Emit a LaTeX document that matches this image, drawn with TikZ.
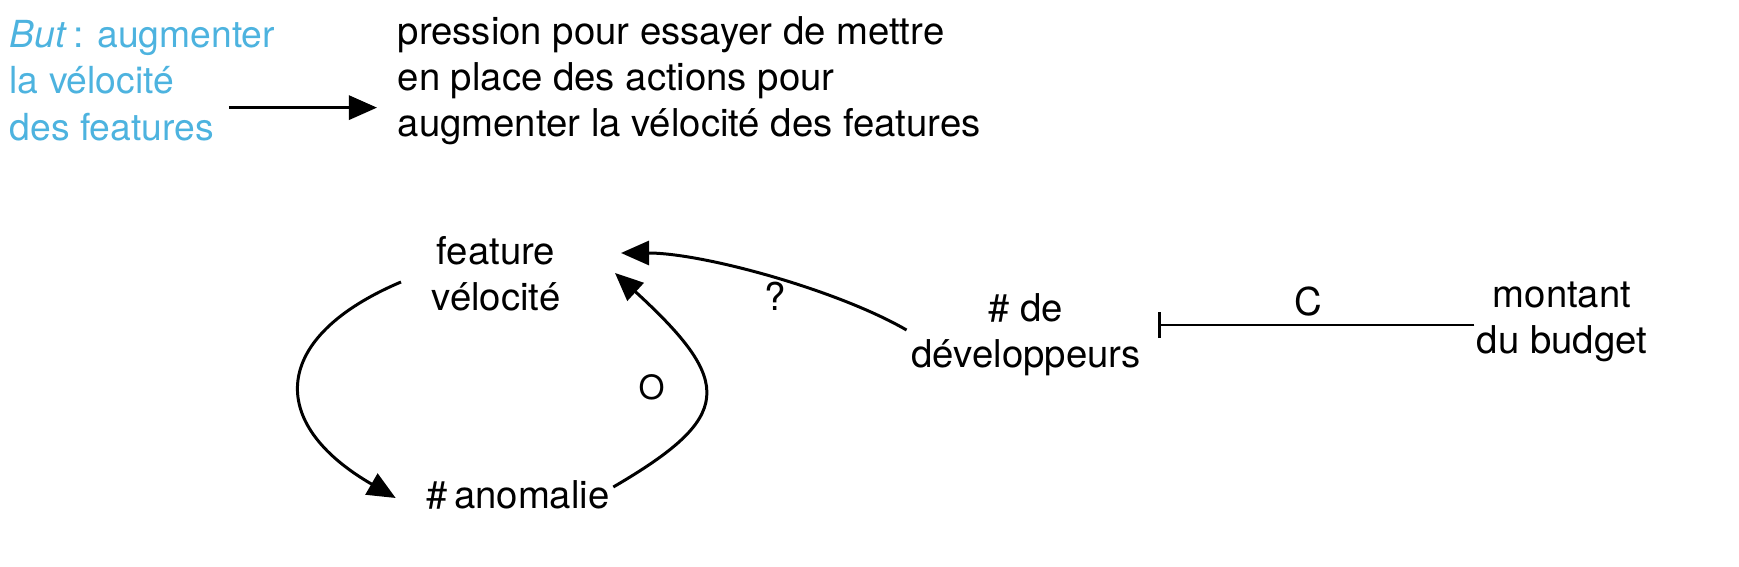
\documentclass[tikz,border=0pt]{standalone}
\usepackage{fontspec}
\setmainfont{TeX Gyre Heros}
\usetikzlibrary{arrows.meta}
\definecolor{goalblue}{HTML}{4DB3DF}

\tikzset{
  txt/.style={inner sep=0pt, align=center, font=\fontsize{10.9pt}{13.1pt}\selectfont},
  lnk/.style={line width=0.85pt, -{Triangle[length=0.28cm,width=0.24cm]}},
  cut/.style={line width=0.85pt, -{Bar[width=0.26cm]}},
}

\begin{document}
\begin{tikzpicture}[x=0.01cm, y=-0.01cm]
  \useasboundingbox (0,0) rectangle (1739,567);

  \node (goal) [txt, align=left, text=goalblue, anchor=north west,
    font=\fontsize{10.6pt}{13.1pt}\selectfont] at (9,20)
    {\textit{But}\,: augmenter\\la vélocité\\des features};
  \node (pressure) [txt, align=left, anchor=north west] at (397,16)
    {pression pour essayer de mettre\\en place des actions pour\\augmenter la vélocité des features};

  \node (feat)   [txt] at (496,274)  {feature\\vélocité};
  \node (anom)   [txt] at (518,495)  {\#\,anomalie};
  \node (devs)   [txt] at (1026,335) {\# de\\développeurs};
  \node (budget) [txt] at (1562,322) {montant\\du budget};

  % but -> pression
  \path ([shift={(-47,27)}]goal.east) coordinate (gs);
  \draw[lnk, shorten >=0.2cm] (gs) -- (gs -| pressure.west);

  % boucle O
  \draw[lnk] ([shift={(-30,8)}]feat.west) .. controls +(-130,55) and +(-130,-75) .. ([shift={(-30,3)}]anom.west);
  \draw[lnk] ([shift={(3,-8)}]anom.east) .. controls +(120,-70) and +(120,110) .. ([shift={(54,-1)}]feat.east)
    node[txt, pos=0.5, left=0.38cm, yshift=0.08cm, font=\fontsize{9.5pt}{11pt}\selectfont] {O};

  % developpeurs -> velocite
  \draw[lnk] ([shift={(-4,-5)}]devs.west) .. controls +(-69,-40) and +(82,0) .. ([shift={(60,-21)}]feat.east)
    node[txt, pos=0.5, below=0.04cm, xshift=0.06cm] {?};

  % budget -| developpeurs
  \path ([shift={(-2,3)}]budget.west) coordinate (bs);
  \draw[cut, shorten >=0.17cm] (bs) -- (bs -| devs.east)
    node[txt, midway, above=0.07cm] {C};
\end{tikzpicture}
\end{document}
